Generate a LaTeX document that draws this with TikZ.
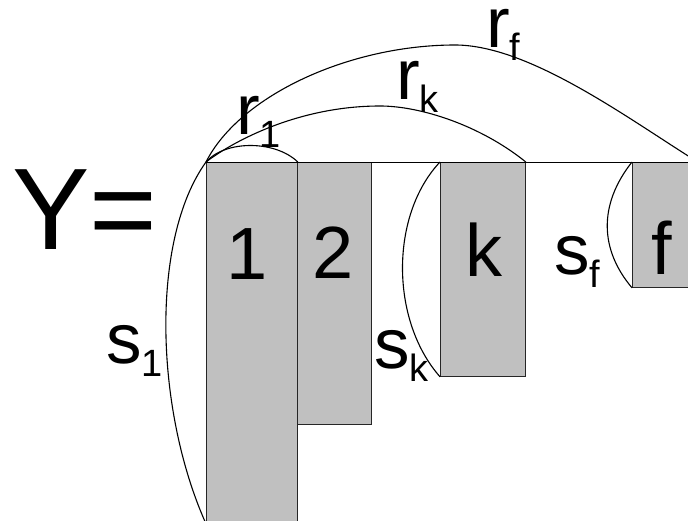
\documentclass[tikz,border=0pt]{standalone}
\usepackage{fontspec}
\setmainfont{Liberation Sans}
\definecolor{bargray}{RGB}{192,192,192}
\usetikzlibrary{positioning}
\newcommand{\subfnt}{\fontsize{38}{38}\selectfont}
\newcommand{\lab}[2]{#1\raisebox{-13pt}{\subfnt #2}}

\begin{document}
\begin{tikzpicture}[
  x=1pt, y=-1pt,
  bar/.style={draw=black!85, fill=bargray, line width=0.8pt, inner sep=0pt, anchor=north west},
  digit/.style={font=\fontsize{74}{74}\selectfont, inner sep=0pt, anchor=base},
  lbl/.style={font=\fontsize{71}{71}\selectfont, inner sep=0pt, text height=38pt, anchor=base west},
  arc/.style={draw=black, line width=1.1pt}
]
  \clip (0,0) rectangle (688,521);

  %% Bars
  \node[bar, minimum width=91pt, minimum height=361pt] (b1) at (206,162) {};
  \node[bar, minimum width=74pt, minimum height=262pt] (b2) at (297,162) {};
  \node[bar, minimum width=85pt, minimum height=214pt] (bk) at (440,162) {};
  \node[bar, minimum width=65pt, minimum height=125pt] (bf) at (632,162) {};

  \node[digit] (n1) at (247,280) {1};
  \node[digit] (n2) at (333,279) {2};
  \node[digit] (nk) at (484,277) {k};
  \node[digit] (nf) at (662,275) {f};

  %% Top line
  \draw[black, line width=0.9pt] (b1.north west) -- (bf.north east);

  %% r arcs
  \draw[arc] (b1.north west) .. controls (225,140) and (275,140) .. (b1.north east);
  \draw[arc] (b1.north west) .. controls (235,140) and (300,106) .. (380,106)
             .. controls (420,106) and (480,125) .. (bk.north east);
  \draw[arc] (b1.north west) .. controls (240,95) and (350,45) .. (455,45)
             .. controls (530,45) and (630,120) .. (bf.north east);

  %% s arcs
  \draw[arc] (b1.north west) .. controls (150,240) and (155,410) .. (b1.south west);
  \draw[arc] (bk.north west) .. controls (390,215) and (390,320) .. (bk.south west);
  \draw[arc] (bf.north west) .. controls (598,205) and (600,250) .. (bf.south west);

  %% Labels
  \node[font=\fontsize{116}{116}\selectfont, inner sep=0pt, anchor=base west] (y) at (12,250) {Y=};
  \node[lbl] (r1) at (236,135) {\lab{r}{1}};
  \node[lbl] (rk) at (396,100) {\lab{r}{k}};
  \node[lbl] (rf) at (486,48) {\lab{r}{f}};
  \node[lbl] (s1) at (106,363) {\lab{s}{1}};
  \node[lbl] (sk) at (374,368) {\lab{s}{k}};
  \node[lbl] (sf) at (554,275) {\lab{s}{f}};
\end{tikzpicture}
\end{document}
